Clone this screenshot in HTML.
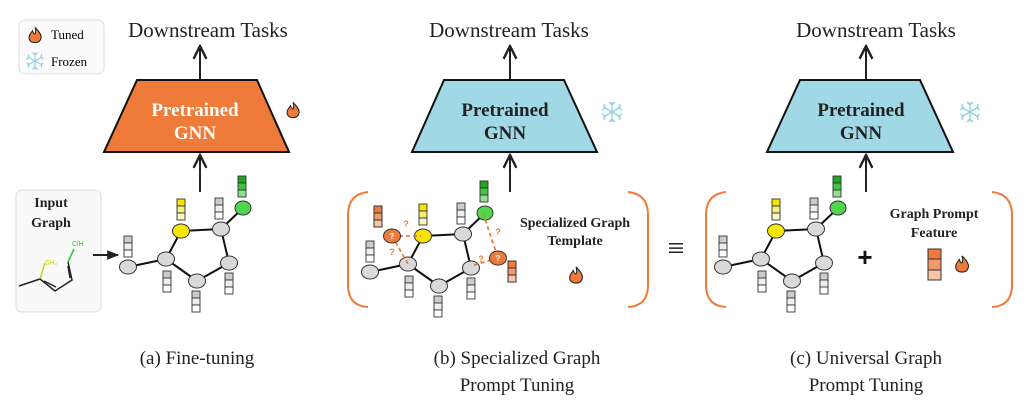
<!DOCTYPE html>
<html><head><meta charset="utf-8"><style>
body{margin:0;background:#fff}
svg{display:block}
.t{font-family:"Liberation Serif",serif}
</style></head><body>
<svg width="1029" height="408" viewBox="0 0 1029 408" xmlns="http://www.w3.org/2000/svg">
<defs>
<marker id="ah" viewBox="0 0 10 10" refX="9" refY="5" markerWidth="8" markerHeight="8" orient="auto-start-reverse"><path d="M1,1 L9,5 L1,9" fill="none" stroke="#222" stroke-width="1.5"/></marker>
<marker id="af" viewBox="0 0 10 10" refX="9" refY="5" markerWidth="6" markerHeight="6" orient="auto"><path d="M0,1 L10,5 L0,9z" fill="#222"/></marker>
<g id="flame"><path d="M0,-9 C5,-4 8,0 7,4 C6,8 3,9 0,9 C-4,9 -7,7 -7,3 C-7,-1 -4,-3 -3,-5 C-2,-2 -1,-1 0,-1 C1,-3 1,-6 0,-9z" fill="#ee7b3a" stroke="#222" stroke-width="1.2"/></g>
<g id="snow" stroke="#8fd0e0" stroke-width="1.3" fill="none"><path d="M0,-10V10M-8.7,-5L8.7,5M-8.7,5L8.7,-5M-3,-10L0,-7L3,-10M-3,10L0,7L3,10M-10,-2L-7,-4L-8,-8M10,2L7,4L8,8M-10,2L-7,4L-8,8M10,-2L7,-4L8,-8"/></g>
<g id="gb"><rect x="0" y="0" width="8" height="7" fill="#ccc" stroke="#333" stroke-width="0.9"/><rect x="0" y="7" width="8" height="7" fill="#eee" stroke="#333" stroke-width="0.9"/><rect x="0" y="14" width="8" height="7" fill="#fff" stroke="#333" stroke-width="0.9"/></g>
<g id="graph">
<g stroke="#111" stroke-width="2"><line x1="128" y1="267" x2="166" y2="259"/><line x1="166" y1="259" x2="181" y2="231"/><line x1="181" y1="231" x2="221" y2="229"/><line x1="221" y1="229" x2="243" y2="208"/><line x1="221" y1="229" x2="229" y2="263"/><line x1="229" y1="263" x2="197" y2="281"/><line x1="197" y1="281" x2="166" y2="259"/></g>
<g stroke="#333" stroke-width="1"><ellipse cx="128" cy="267" rx="8.5" ry="7" fill="#d9d9d9"/><ellipse cx="166" cy="259" rx="8.5" ry="7" fill="#d9d9d9"/><ellipse cx="181" cy="231" rx="8.5" ry="7" fill="#f7e400"/><ellipse cx="221" cy="229" rx="8.5" ry="7" fill="#d9d9d9"/><ellipse cx="243" cy="208" rx="8" ry="7" fill="#4fd64f"/><ellipse cx="229" cy="263" rx="8.5" ry="7" fill="#d9d9d9"/><ellipse cx="197" cy="281" rx="8.5" ry="7" fill="#d9d9d9"/></g>
<use href="#gb" x="124" y="236"/><use href="#gb" x="215" y="198"/><use href="#gb" x="163" y="271"/><use href="#gb" x="192" y="291"/><use href="#gb" x="225" y="273"/>
<g stroke="#333" stroke-width="0.9"><rect x="177" y="199" width="8" height="7" fill="#f7e400"/><rect x="177" y="206" width="8" height="7" fill="#f5f07a"/><rect x="177" y="213" width="8" height="7" fill="#f8f8c0"/>
<rect x="238" y="176" width="8" height="7" fill="#1fa81f"/><rect x="238" y="183" width="8" height="7" fill="#3fc83f"/><rect x="238" y="190" width="8" height="7" fill="#8fe08f"/></g>
</g>
</defs>

<rect x="19" y="20" width="85" height="54" rx="6" fill="#fafafa" stroke="#ddd"/>
<use href="#flame" transform="translate(35,35) scale(0.85)"/>
<use href="#snow" transform="translate(35,61) scale(0.85)"/>
<text class="t" x="51" y="39" font-size="13">Tuned</text>
<text class="t" x="51" y="66" font-size="13">Frozen</text>

<g class="t" font-size="21" fill="#222" text-anchor="middle">
<text x="208" y="37">Downstream Tasks</text>
<text x="509" y="37">Downstream Tasks</text>
<text x="876" y="37">Downstream Tasks</text>
</g>
<g stroke="#222" stroke-width="2" marker-end="url(#ah)">
<line x1="200" y1="80" x2="200" y2="46"/><line x1="510" y1="80" x2="510" y2="46"/><line x1="866" y1="80" x2="866" y2="46"/>
<line x1="200" y1="192" x2="200" y2="155"/><line x1="510" y1="192" x2="510" y2="155"/><line x1="866" y1="192" x2="866" y2="155"/>
</g>
<polygon points="137,80 257,80 289,152 104,152" fill="#ee7b3a" stroke="#111" stroke-width="2"/>
<polygon points="444,80 564,80 597,152 412,152" fill="#a1d8e6" stroke="#111" stroke-width="2"/>
<polygon points="800,80 920,80 953,152 767,152" fill="#a1d8e6" stroke="#111" stroke-width="2"/>
<g class="t" font-size="19" font-weight="bold" text-anchor="middle">
<text x="195" y="116" fill="#fff">Pretrained</text><text x="195" y="139" fill="#fff">GNN</text>
<text x="505" y="116" fill="#222">Pretrained</text><text x="505" y="139" fill="#222">GNN</text>
<text x="861" y="116" fill="#222">Pretrained</text><text x="861" y="139" fill="#222">GNN</text>
</g>
<use href="#flame" transform="translate(293,110) scale(0.85)"/>
<use href="#snow" transform="translate(612,112)"/>
<use href="#snow" transform="translate(970,112)"/>

<rect x="16" y="190" width="85" height="122" rx="6" fill="#f9f9f9" stroke="#ddd"/>
<text class="t" x="51" y="207" font-size="14" font-weight="bold" text-anchor="middle" fill="#222">Input</text>
<text class="t" x="51" y="227" font-size="14" font-weight="bold" text-anchor="middle" fill="#222">Graph</text>
<g stroke-width="1.5" fill="none"><path d="M19,286 L40,279" stroke="#222"/><path d="M40,279 L45,263" stroke="#cc3"/><path d="M40,279 L55,291 L72,280 L68,262" stroke="#222"/><path d="M44,281 L56,287 M68,266 L70,278" stroke="#222"/><path d="M68,262 L74,249" stroke="#2c2"/></g>
<text x="45" y="265" font-size="7" fill="#cc3" font-family="Liberation Sans,sans-serif">SH₂</text>
<text x="72" y="246" font-size="7" fill="#2c2" font-family="Liberation Sans,sans-serif">ClH</text>
<line x1="93" y1="255" x2="118" y2="255" stroke="#222" stroke-width="2" marker-end="url(#af)"/>
<use href="#graph"/>

<use href="#graph" x="242" y="5"/>
<g stroke="#ee7b3a" stroke-width="1.8" stroke-dasharray="4,3"><line x1="392" y1="236" x2="421" y2="236"/><line x1="392" y1="236" x2="408" y2="264"/><line x1="483" y1="213" x2="498" y2="258"/><line x1="498" y1="258" x2="471" y2="266"/></g>
<g stroke="#333" stroke-width="1"><ellipse cx="392" cy="236" rx="8.5" ry="7" fill="#ee7b3a"/><ellipse cx="498" cy="258" rx="8.5" ry="7" fill="#ee7b3a"/>
<rect x="374" y="206" width="8" height="7" fill="#ee7b3a"/><rect x="374" y="213" width="8" height="7" fill="#f29a68"/><rect x="374" y="220" width="8" height="7" fill="#f8c4a4"/>
<rect x="508" y="261" width="8" height="7" fill="#ee7b3a"/><rect x="508" y="268" width="8" height="7" fill="#f29a68"/><rect x="508" y="275" width="8" height="7" fill="#f8c4a4"/></g>
<g font-size="8" fill="#fff" font-weight="bold" font-family="Liberation Sans,sans-serif" text-anchor="middle"><text x="392" y="239">?</text><text x="498" y="261">?</text></g>
<g font-size="9" fill="#ee7b3a" font-weight="bold" font-family="Liberation Sans,sans-serif" text-anchor="middle"><text x="406" y="227">?</text><text x="392" y="255">?</text><text x="498" y="235">?</text><text x="481" y="262">?</text></g>
<path d="M368,192 Q348,194 348,215 V285 Q348,306 368,307" fill="none" stroke="#ee7b3a" stroke-width="2"/>
<path d="M628,192 Q648,194 648,215 V285 Q648,306 628,307" fill="none" stroke="#ee7b3a" stroke-width="2"/>
<g class="t" font-size="14" font-weight="bold" text-anchor="middle" fill="#222"><text x="575" y="227">Specialized Graph</text><text x="575" y="245">Template</text></g>
<use href="#flame" transform="translate(576,275) scale(0.9)"/>
<text class="t" x="676" y="258" font-size="30" text-anchor="middle" fill="#222">≡</text>

<use href="#graph" x="595" y="0"/>
<path d="M726,192 Q706,194 706,215 V285 Q706,306 726,307" fill="none" stroke="#ee7b3a" stroke-width="2"/>
<path d="M992,192 Q1012,194 1012,215 V285 Q1012,306 992,307" fill="none" stroke="#ee7b3a" stroke-width="2"/>
<text x="865" y="266" font-size="26" font-weight="bold" text-anchor="middle" font-family="Liberation Sans,sans-serif" fill="#111">+</text>
<g class="t" font-size="14" font-weight="bold" text-anchor="middle" fill="#222"><text x="934" y="218">Graph Prompt</text><text x="934" y="237">Feature</text></g>
<g stroke="#333" stroke-width="1"><rect x="928" y="249" width="13" height="10" fill="#ee7b3a"/><rect x="928" y="259" width="13" height="11" fill="#f29a68"/><rect x="928" y="270" width="13" height="10" fill="#f8c4a4"/></g>
<use href="#flame" transform="translate(962,264) scale(0.9)"/>

<g class="t" font-size="19" text-anchor="middle" fill="#222">
<text x="197" y="364">(a) Fine-tuning</text>
<text x="517" y="364">(b) Specialized Graph</text><text x="517" y="391">Prompt Tuning</text>
<text x="866" y="364">(c) Universal Graph</text><text x="866" y="391">Prompt Tuning</text>
</g>
</svg>
</body></html>
